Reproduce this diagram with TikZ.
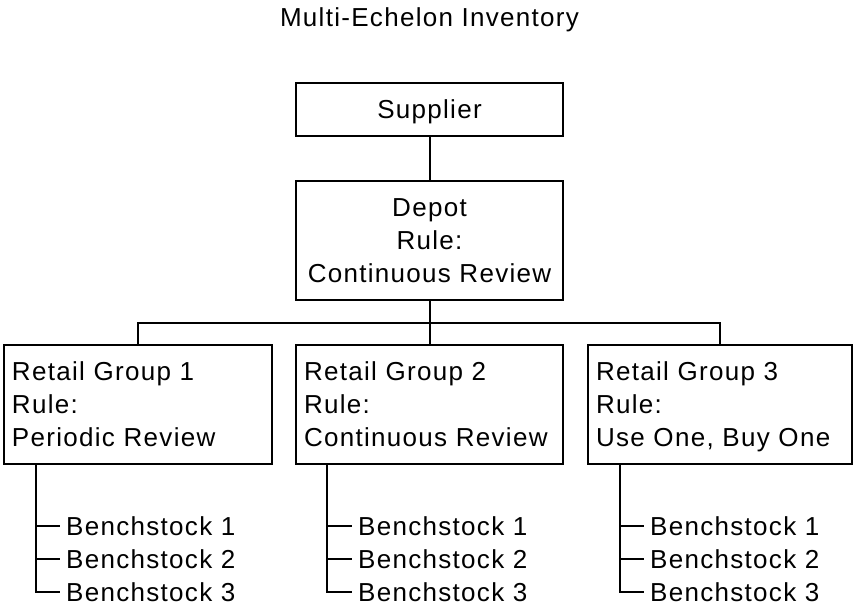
\documentclass[tikz,border=0pt]{standalone}
\usepackage{fontspec}
\setmainfont{Liberation Sans}[LetterSpace=5]
\usetikzlibrary{positioning}

\begin{document}
\begin{tikzpicture}[
    x=1pt, y=-1pt,
    every node/.style={font=\fontsize{26}{33}\selectfont},
    box/.style={draw, line width=2pt, inner sep=0pt},
    echelon/.style={box, minimum width=267pt, align=center},
    retail/.style={box, minimum height=119pt, inner xsep=8pt, align=left},
    bench/.style={anchor=base west, inner xsep=6pt, inner ysep=0pt},
    link/.style={line width=2pt}
]
\useasboundingbox (0,0) rectangle (853,610);

% Title
\node[anchor=base] (title) at (429.5,27) {Multi-Echelon Inventory};

% Upper echelons
\node[echelon, minimum height=53pt, text depth=0pt] (supplier) at (429.5,109.5) {Supplier};
\node[echelon, minimum height=119pt] (depot) at (429.5,240.5) {Depot\\Rule:\\Continuous Review};

% Retail groups
\node[retail, minimum width=268pt, text width=252pt] (rg1) at (138,404.5) {Retail Group 1\\Rule:\\Periodic Review};
\node[retail, minimum width=267pt, text width=251pt] (rg2) at (429.5,404.5) {Retail Group 2\\Rule:\\Continuous Review};
\node[retail, minimum width=264pt, text width=248pt] (rg3) at (720,404.5) {Retail Group 3\\Rule:\\\raisebox{0pt}[\height][0pt]{Use One, Buy One}};

% Benchstocks
\node[bench] (bs11) at (60,535) {Benchstock 1};
\node[bench] (bs12) at (60,568) {Benchstock 2};
\node[bench] (bs13) at (60,601) {Benchstock 3};

\node[bench] (bs21) at (352,535) {Benchstock 1};
\node[bench] (bs22) at (352,568) {Benchstock 2};
\node[bench] (bs23) at (352,601) {Benchstock 3};

\node[bench] (bs31) at (644,535) {Benchstock 1};
\node[bench] (bs32) at (644,568) {Benchstock 2};
\node[bench] (bs33) at (644,601) {Benchstock 3};

% Lines
\coordinate (bus) at (429.5,323);
\draw[link] (supplier) -- (depot);
\draw[link] (depot) -- (rg2);
\draw[link] (rg1.north) |- (bus) -| (rg3.north);

\coordinate (trunk1) at ([xshift=33pt]rg1.south west);
\coordinate (trunk2) at ([xshift=32pt]rg2.south west);
\coordinate (trunk3) at ([xshift=33pt]rg3.south west);

\draw[link] (trunk1) |- (bs11.west);
\draw[link] (trunk1) |- (bs12.west);
\draw[link] (trunk1) |- (bs13.west);

\draw[link] (trunk2) |- (bs21.west);
\draw[link] (trunk2) |- (bs22.west);
\draw[link] (trunk2) |- (bs23.west);

\draw[link] (trunk3) |- (bs31.west);
\draw[link] (trunk3) |- (bs32.west);
\draw[link] (trunk3) |- (bs33.west);

\end{tikzpicture}
\end{document}
